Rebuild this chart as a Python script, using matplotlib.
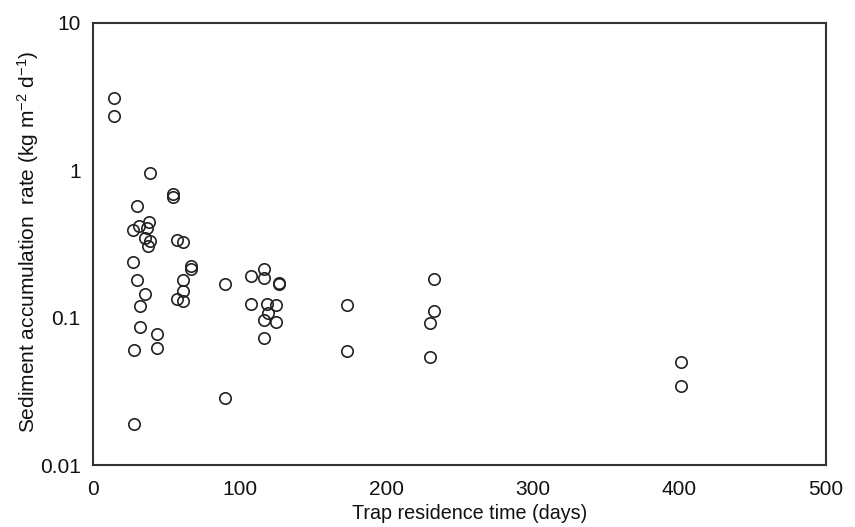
import matplotlib
matplotlib.use("Agg")
import matplotlib.pyplot as plt
from matplotlib.ticker import FixedLocator, FixedFormatter, NullLocator

plt.rcParams["font.family"] = ["Liberation Sans", "DejaVu Sans"]
plt.rcParams["mathtext.fontset"] = "custom"
plt.rcParams["mathtext.rm"] = "Liberation Sans"
plt.rcParams["mathtext.it"] = "Liberation Sans"
plt.rcParams["mathtext.default"] = "regular"

# trap residence time (days) and sediment accumulation rate (kg m-2 d-1)
days = [14.5, 14.5, 38.9, 54.5, 54.5, 30.0,
        27.5, 31.6, 36.6, 38.2, 35.5, 38.9, 37.7,
        57.1, 61.2, 27.5, 30.2, 35.7, 32.1, 32.1, 43.4,
        66.8, 66.8, 61.2, 61.2, 57.1, 61.6,
        28.2, 43.4, 28.2,
        90.0, 90.0,
        107.6, 116.9, 116.9, 127.1, 127.1, 107.6, 118.9, 124.8, 119.2,
        116.9, 124.8, 116.9,
        173.3, 173.3,
        232.8, 232.8, 229.9, 229.9,
        401.1, 401.1]
rate = [3.08, 2.32, 0.955, 0.69, 0.657, 0.573,
        0.394, 0.419, 0.404, 0.448, 0.349, 0.330, 0.307,
        0.337, 0.328, 0.238, 0.180, 0.145, 0.120, 0.087, 0.078,
        0.224, 0.213, 0.180, 0.152, 0.133, 0.130,
        0.0604, 0.062, 0.019,
        0.169, 0.0286,
        0.192, 0.214, 0.185, 0.172, 0.168, 0.123, 0.123, 0.121, 0.108,
        0.0965, 0.094, 0.0724,
        0.122, 0.0594,
        0.184, 0.111, 0.0925, 0.0544,
        0.0498, 0.0346]

x_ticks = [0, 100, 200, 300, 400, 500]
y_ticks = [0.01, 0.1, 1, 10]
y_labels = ["0.01", "0.1", "1", "10"]

fig = plt.figure(figsize=(8.55, 5.27), dpi=100)
ax = fig.add_axes([0.1088, 0.1176, 0.8572, 0.8388])

ax.plot(days, rate, linestyle="none", marker="o", markersize=8.2,
        markerfacecolor="none", markeredgecolor="#222222", markeredgewidth=1.2)

ax.set_yscale("log")
ax.set_xlim(0, 500)
ax.set_ylim(0.01, 10)
ax.xaxis.set_major_locator(FixedLocator(x_ticks))
ax.yaxis.set_major_locator(FixedLocator(y_ticks))
ax.yaxis.set_major_formatter(FixedFormatter(y_labels))
ax.yaxis.set_minor_locator(NullLocator())
ax.tick_params(length=0, labelsize=15, colors="#111111")
ax.tick_params(axis="x", pad=11)
ax.tick_params(axis="y", pad=9)

for s in ax.spines.values():
    s.set_linewidth(1.5)
    s.set_color("#333333")

ax.set_xlabel("Trap residence time (days)", fontsize=14.2, color="#111111")
ax.set_ylabel(r"Sediment accumulation  rate (kg m$^{-2}$ d$^{-1}$)", fontsize=15,
              color="#111111")
ax.xaxis.set_label_coords(0.5136, -0.089)
ax.yaxis.set_label_coords(-0.071, 0.505)

fig.savefig("out.png", dpi=100)
